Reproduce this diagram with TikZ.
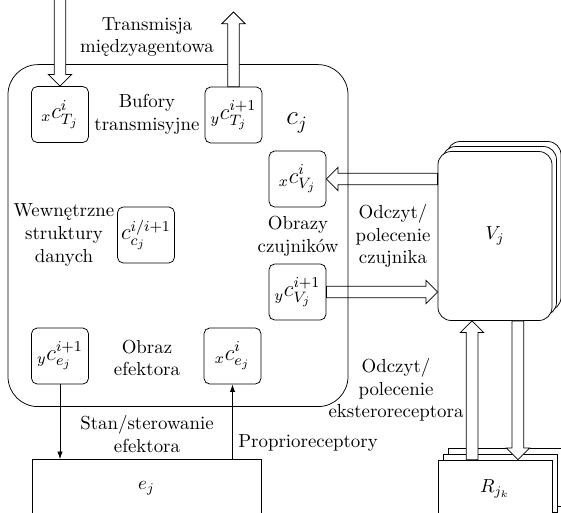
\documentclass[tikz,border=0pt]{standalone}
\usepackage{fontspec}
\usetikzlibrary{calc,arrows.meta}
\newlength{\upx}\setlength{\upx}{0.53pt}
\tikzset{
  cbox/.style={draw, fill=white, rounded corners=3pt, minimum width=57\upx, minimum height=56\upx, inner sep=0pt, font=\large},
  lbl/.style={align=center, inner sep=0pt},
  fatstyle/.style={draw, fill=white, line join=miter},
  sigarrow/.style={-{Latex[length=4pt,width=2.8pt]}},
  vbox/.style={draw, fill=white, rounded corners=7pt, minimum width=114\upx, minimum height=169\upx, inner sep=0pt},
  rbox/.style={draw, fill=white, minimum width=114\upx, minimum height=58\upx, inner sep=0pt},
  ebox/.style={draw, fill=white, minimum width=229\upx, minimum height=58\upx, inner sep=0pt},
}
\newcommand\fatarrow[2]{%
  \path (#1) coordinate (fa-s) (#2) coordinate (fa-t);
  \path ($(fa-t)!6.2pt!(fa-s)$) coordinate (fa-h);
  \draw[fatstyle] ($(fa-s)!3.1pt!90:(fa-t)$) -- ($(fa-h)!3.1pt!90:(fa-t)$) -- ($(fa-h)!6.2pt!90:(fa-t)$) -- (fa-t)
     -- ($(fa-h)!6.2pt!-90:(fa-t)$) -- ($(fa-h)!3.1pt!-90:(fa-t)$) -- ($(fa-s)!3.1pt!-90:(fa-t)$) -- cycle;
}
\begin{document}
\begin{tikzpicture}[x=0.53pt, y=-0.53pt]
\useasboundingbox (0,0) rectangle (561,512);
\clip (0,0) rectangle (561,512);

% inner boxes
\node[cbox] (xcT) at (60,114.5) {${}_{x}c^{i}_{T_j}$};
\node[cbox] (ycT) at (233.5,115) {${}_{y}c^{i+1}_{T_j}$};
\node[cbox] (xcV) at (297.5,179) {${}_{x}c^{i}_{V_j}$};
\node[cbox] (ycV) at (297.5,292) {${}_{y}c^{i+1}_{V_j}$};
\node[cbox] (ccc) at (146,235) {$c^{i/i+1}_{c_j}$};
\node[cbox] (yce) at (60,356) {${}_{y}c^{i+1}_{e_j}$};
\node[cbox] (xce) at (232.5,356) {${}_{x}c^{i}_{e_j}$};

% sensor stack
\node[vbox] (Vj3) at (504,226) {};
\node[vbox] (Vj2) at (499.5,231) {};
\node[vbox] (Vj) at (495,236) {$V_j$};

% receptor stack
\node[rbox] (R3) at (505,477) {};
\node[rbox] (R2) at (500,483) {};
\node[rbox] (R) at (495,489) {$R_{j_k}$};

% effector
\node[ebox] (ej) at (146.5,488.5) {$e_j$};

% horizontal fat arrows (under the agent border)
\fatarrow{Vj.west |- xcV.east}{xcV.east}
\fatarrow{ycV.east}{Vj.west |- ycV.east}

% main agent box
\node[draw, rounded corners=15.9pt, minimum width=340\upx, minimum height=342\upx, inner sep=0pt] (cj) at (178,235.6) {};
\node[lbl] (cjl) at (297,123) {\Large $c_j$};

% texts
\node[lbl] (t1) at (147,37) {Transmisja\\międzyagentowa};
\node[lbl] (t2) at (147,114) {Bufory\\transmisyjne};
\node[lbl] (t3) at (64,235) {Wewnętrzne\\struktury\\danych};
\node[lbl] (t4) at (298,236) {Obrazy\\czujników};
\node[lbl] (t5) at (393,236) {Odczyt/\\polecenie\\czujnika};
\node[lbl] (t6) at (147,358) {Obraz\\efektora};
\node[lbl] (t7) at (147,434) {Stan/sterowanie\\efektora};
\node[lbl, anchor=west] (t8) at (238,443) {Proprioreceptory};
\node[lbl] (t9) at (396,390) {Odczyt/\\polecenie\\eksteroreceptora};

% thin arrows
\draw[sigarrow] (yce.south) -- (yce.south |- ej.north);
\draw[sigarrow] (xce.south |- ej.north) -- (xce.south);

% vertical fat arrows
\coordinate (inT) at (60,-20);
\coordinate (outT) at (233.5,12);
\fatarrow{inT}{xcT.north}
\fatarrow{ycT.north}{outT}
\fatarrow{$(R.north west)!0.3!(R.north east)$}{$(Vj.south west)!0.3!(Vj.south east)$}
\fatarrow{$(Vj.south west)!0.7!(Vj.south east)$}{$(R.north west)!0.7!(R.north east)$}
\end{tikzpicture}
\end{document}
